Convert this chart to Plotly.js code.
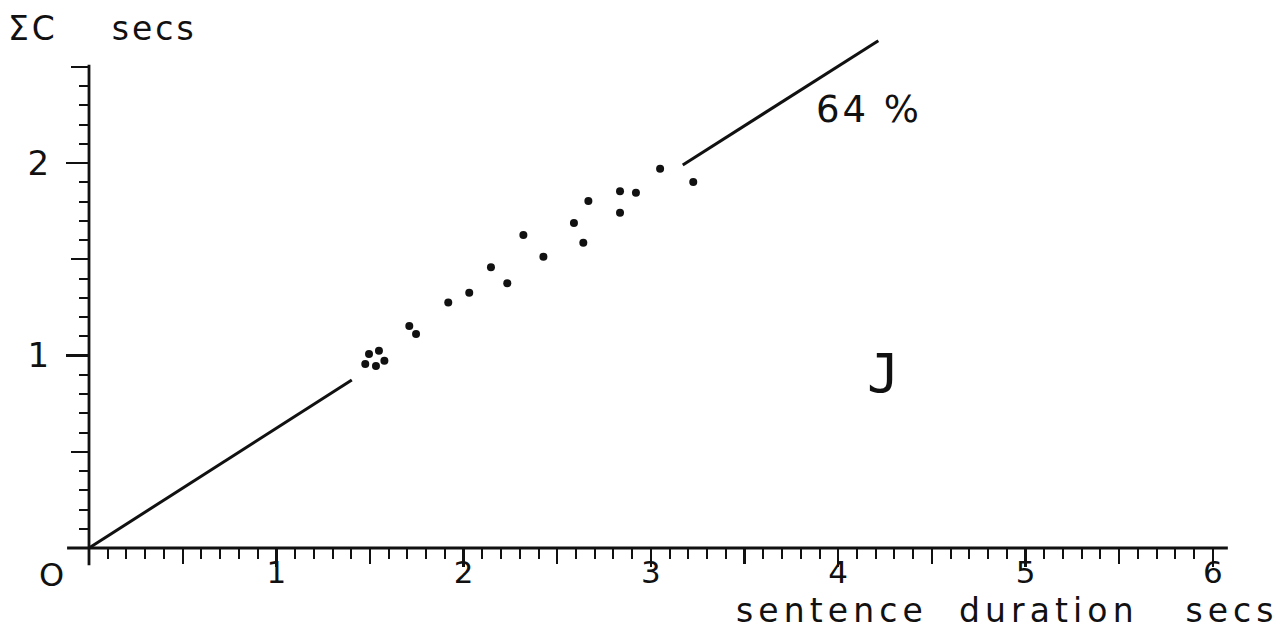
<!DOCTYPE html>
<html>
<head>
<meta charset="utf-8">
<script src="https://cdn.plot.ly/plotly-3.0.1.min.js"></script>
<style>
html,body{margin:0;padding:0;background:#fff;}
#chart{width:1282px;height:632px;}
.annotation-text{letter-spacing:3px;}
g.annotation[data-index="2"] text{letter-spacing:5.1px;}
</style>
</head>
<body>
<div id="chart"></div>
<script>
// ---- data ----
const sentenceDuration = [1.475, 1.495, 1.532, 1.548, 1.577, 1.710, 1.746, 1.918, 2.030, 2.146, 2.233, 2.319, 2.426, 2.589, 2.639, 2.666, 2.835, 2.835, 2.920, 3.049, 3.226];
const sumC             = [0.956, 1.008, 0.945, 1.025, 0.973, 1.153, 1.112, 1.276, 1.326, 1.458, 1.375, 1.626, 1.513, 1.688, 1.586, 1.803, 1.853, 1.742, 1.846, 1.970, 1.901];
const lowerLineX = [0, 1.403];
const lowerLineY = [0, 0.873];
const upperLineX = [3.170, 4.214];
const upperLineY = [1.990, 2.635];
const xTickVals = [1, 2, 3, 4, 5, 6];
const xTickText = ['1', '2', '3', '4', '5', '6'];
const yTickVals = [1, 2];
const yTickText = ['1', '2'];
const slopeLabel = '64\u00a0%';
const panelLabel = 'J';
const originLabel = 'O';
const xTitle = 'sentence\u00a0\u00a0duration\u00a0\u00a0\u00a0secs';
const yTitle = '\u03a3C\u00a0\u00a0\u00a0\u00a0secs';

// ---- axis geometry ----
const X1 = 6.209, Y1 = 2.691;
const xAxisEnd = 6.08, yAxisEnd = 2.51;
const ink = '#111';
const font = 'DejaVu Sans, sans-serif';

function steps(from, to, step, skipEvery) {
  const out = [];
  for (let i = Math.round(from / step); i * step <= to + 1e-9; i++) {
    const v = +(i * step).toFixed(3);
    if (skipEvery && Math.abs(v / skipEvery - Math.round(v / skipEvery)) < 1e-6) continue;
    out.push(v);
  }
  return out;
}
function px2paperX(p) { return (p - 89) / 1163; }
function px2paperY(p) { return (548 - p) / 518; }

const traces = [
  {x: lowerLineX, y: lowerLineY, mode: 'lines', line: {color: ink, width: 3}, hoverinfo: 'skip'},
  {x: upperLineX, y: upperLineY, mode: 'lines', line: {color: ink, width: 3}, hoverinfo: 'skip'},
  {x: sentenceDuration, y: sumC, mode: 'markers', marker: {color: ink, size: 8}, cliponaxis: false},
  {x: [], y: [], xaxis: 'x2', yaxis: 'y2', mode: 'markers'}
];

function ann(text, xp, yp, size, fam, anchorY) {
  return {text: text, xref: 'paper', yref: 'paper', x: px2paperX(xp), y: px2paperY(yp),
          xanchor: 'left', yanchor: anchorY || 'middle', align: 'left', showarrow: false,
          borderpad: 0, font: {size: size, family: fam || font, color: ink}};
}

const layout = {
  width: 1282, height: 632,
  margin: {l: 89, r: 30, t: 30, b: 84, pad: 0},
  paper_bgcolor: '#fff', plot_bgcolor: '#fff',
  showlegend: false,
  font: {family: font, color: ink},
  xaxis: {
    range: [0, X1], showgrid: false, zeroline: false, showline: false,
    tickmode: 'array', tickvals: xTickVals, ticktext: xTickText,
    ticks: 'outside', ticklen: 18, tickwidth: 2.4, tickcolor: ink,
    tickfont: {size: 31, family: font, color: ink}, ticklabelstandoff: -21,
    minor: {tickmode: 'array', tickvals: steps(0.1, 6, 0.1, 0.5), ticks: 'outside', ticklen: 10, tickwidth: 2, tickcolor: ink, showgrid: false},
    automargin: false, fixedrange: true
  },
  xaxis2: {
    range: [0, X1], overlaying: 'x', anchor: 'y', side: 'bottom',
    showgrid: false, zeroline: false, showline: false, showticklabels: false,
    tickmode: 'array', tickvals: steps(0.5, 5.5, 0.5, 1),
    ticks: 'outside', ticklen: 15, tickwidth: 2.2, tickcolor: ink, automargin: false
  },
  yaxis: {
    range: [0, Y1], showgrid: false, zeroline: false, showline: false,
    tickmode: 'array', tickvals: yTickVals, ticktext: yTickText,
    ticks: 'outside', ticklen: 22, tickwidth: 2.4, tickcolor: ink,
    tickfont: {size: 34, family: font, color: ink}, ticklabelstandoff: 10,
    minor: {tickmode: 'array', tickvals: steps(0.1, 2.4, 0.1, 0.5), ticks: 'outside', ticklen: 9, tickwidth: 2, tickcolor: ink, showgrid: false},
    automargin: false, fixedrange: true
  },
  yaxis2: {
    range: [0, Y1], overlaying: 'y', anchor: 'x', side: 'left',
    showgrid: false, zeroline: false, showline: false, showticklabels: false,
    tickmode: 'array', tickvals: steps(0.5, 2.5, 0.5, 1),
    ticks: 'outside', ticklen: 17, tickwidth: 2.2, tickcolor: ink, automargin: false
  },
  shapes: [
    {type: 'line', xref: 'paper', yref: 'paper', x0: -0.117 / X1, x1: xAxisEnd / X1, y0: 0, y1: 0, line: {color: ink, width: 2.8}},
    {type: 'line', xref: 'paper', yref: 'paper', x0: 0, x1: 0, y0: -0.09 / Y1, y1: yAxisEnd / Y1, line: {color: ink, width: 2.8}}
  ],
  annotations: [
    ann(originLabel, 38, 575, 32),
    ann(yTitle, 7, 29, 33),
    ann(xTitle, 735, 631, 33, null, 'bottom'),
    ann(slopeLabel, 815, 109, 37),
    ann(panelLabel, 866, 373, 54, 'DejaVu Sans Mono, monospace')
  ]
};

Plotly.newPlot('chart', traces, layout, {staticPlot: true, displayModeBar: false});
</script>
</body>
</html>
